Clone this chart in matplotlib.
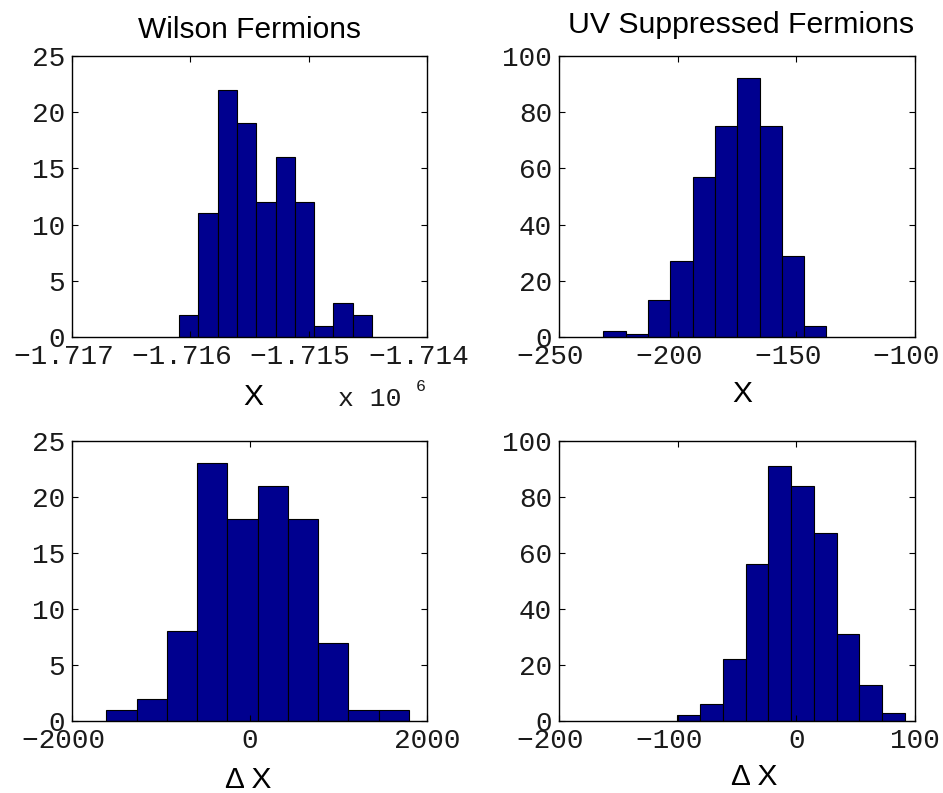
import numpy as np
import matplotlib.pyplot as plt
from matplotlib.ticker import FuncFormatter

# histogram data
wilson_x_counts = [2, 11, 22, 19, 12, 16, 12, 1, 3, 2]
wilson_x_range = (-1716095, -1714464)
uv_x_counts = [2, 1, 13, 27, 57, 75, 92, 75, 29, 4]
uv_x_range = (-231.3, -137.3)
wilson_dx_counts = [1, 2, 8, 23, 18, 21, 18, 7, 1, 1]
wilson_dx_range = (-1614, 1797)
uv_dx_counts = [2, 6, 22, 56, 91, 84, 67, 31, 13, 3]
uv_dx_range = (-100.2, 91.3)

W, H = 943, 793
fig = plt.figure(figsize=(W / 100, H / 100), dpi=100)

bar_color = "#00008F"
tick_font = "Liberation Mono"
label_font = "Liberation Sans"
text_color = "#1a1a1a"


def px(x, y):
    return x / W, 1 - y / H


def tick_label(v, scale=1.0, digits=0):
    s = "%.*f" % (digits, v / scale)
    if v < 0:
        # negative labels sit half a character to the left, as in the original
        s = s.replace("-", "\u2212") + " "
    return s


def draw_hist(rect, counts, rng, xlim, xticks, ylim, yticks, scale=1.0, digits=0):
    ax = fig.add_axes(rect)
    edges = np.linspace(rng[0], rng[1], len(counts) + 1)
    ax.bar(edges[:-1], counts, width=np.diff(edges), align="edge",
           color=bar_color, edgecolor="black", linewidth=0.8)
    ax.set_xlim(*xlim)
    ax.set_ylim(*ylim)
    ax.set_xticks(xticks)
    ax.set_yticks(yticks)
    ax.xaxis.set_major_formatter(FuncFormatter(lambda v, p: tick_label(v, scale, digits)))
    ax.tick_params(direction="in", length=4, width=0.8, top=True, right=True,
                   labelsize=20, pad=5, labelcolor=text_color)
    for lab in ax.get_xticklabels() + ax.get_yticklabels():
        lab.set_fontfamily(tick_font)
    for s in ax.spines.values():
        s.set_linewidth(1.0)
    return ax


# axes rectangles in figure fractions
top_y0, top_h = 1 - 337 / H, (337 - 56) / H
bot_y0, bot_h = 1 - 721 / H, (721 - 441) / H
left_x0, left_w = 72 / W, (427 - 72) / W
right_x0, right_w = 559 / W, (915 - 559) / W

draw_hist([left_x0, top_y0, left_w, top_h], wilson_x_counts, wilson_x_range,
          (-1.717e6, -1.714e6), [-1.717e6, -1.716e6, -1.715e6, -1.714e6],
          (0, 25), [0, 5, 10, 15, 20, 25], scale=1e6, digits=3)
draw_hist([right_x0, top_y0, right_w, top_h], uv_x_counts, uv_x_range,
          (-250, -100), [-250, -200, -150, -100],
          (0, 100), [0, 20, 40, 60, 80, 100])
draw_hist([left_x0, bot_y0, left_w, bot_h], wilson_dx_counts, wilson_dx_range,
          (-2000, 2000), [-2000, 0, 2000],
          (0, 25), [0, 5, 10, 15, 20, 25])
draw_hist([right_x0, bot_y0, right_w, bot_h], uv_dx_counts, uv_dx_range,
          (-200, 100), [-200, -100, 0, 100],
          (0, 100), [0, 20, 40, 60, 80, 100])

# titles and axis labels
fig.text(*px(249, 38), "Wilson Fermions", ha="center", va="baseline",
         fontsize=21.5, family=label_font)
fig.text(*px(741, 33), "UV Suppressed Fermions", ha="center", va="baseline",
         fontsize=21.8, family=label_font)
fig.text(*px(253, 405), "X", ha="center", va="baseline",
         fontsize=21.5, family=label_font)
fig.text(*px(742, 402), "X", ha="center", va="baseline",
         fontsize=21.5, family=label_font)
fig.text(*px(248, 788), "\u0394 X", ha="center", va="baseline",
         fontsize=21.5, family=label_font)
fig.text(*px(754, 785), "\u0394 X", ha="center", va="baseline",
         fontsize=21.5, family=label_font)

# exponent for the first panel
fig.text(*px(338, 406), "x 10", ha="left", va="baseline",
         fontsize=19, family=tick_font, color=text_color)
fig.text(*px(416, 391), "6", ha="left", va="baseline",
         fontsize=12, family=tick_font, color=text_color)

fig.savefig("out.png", dpi=100)
